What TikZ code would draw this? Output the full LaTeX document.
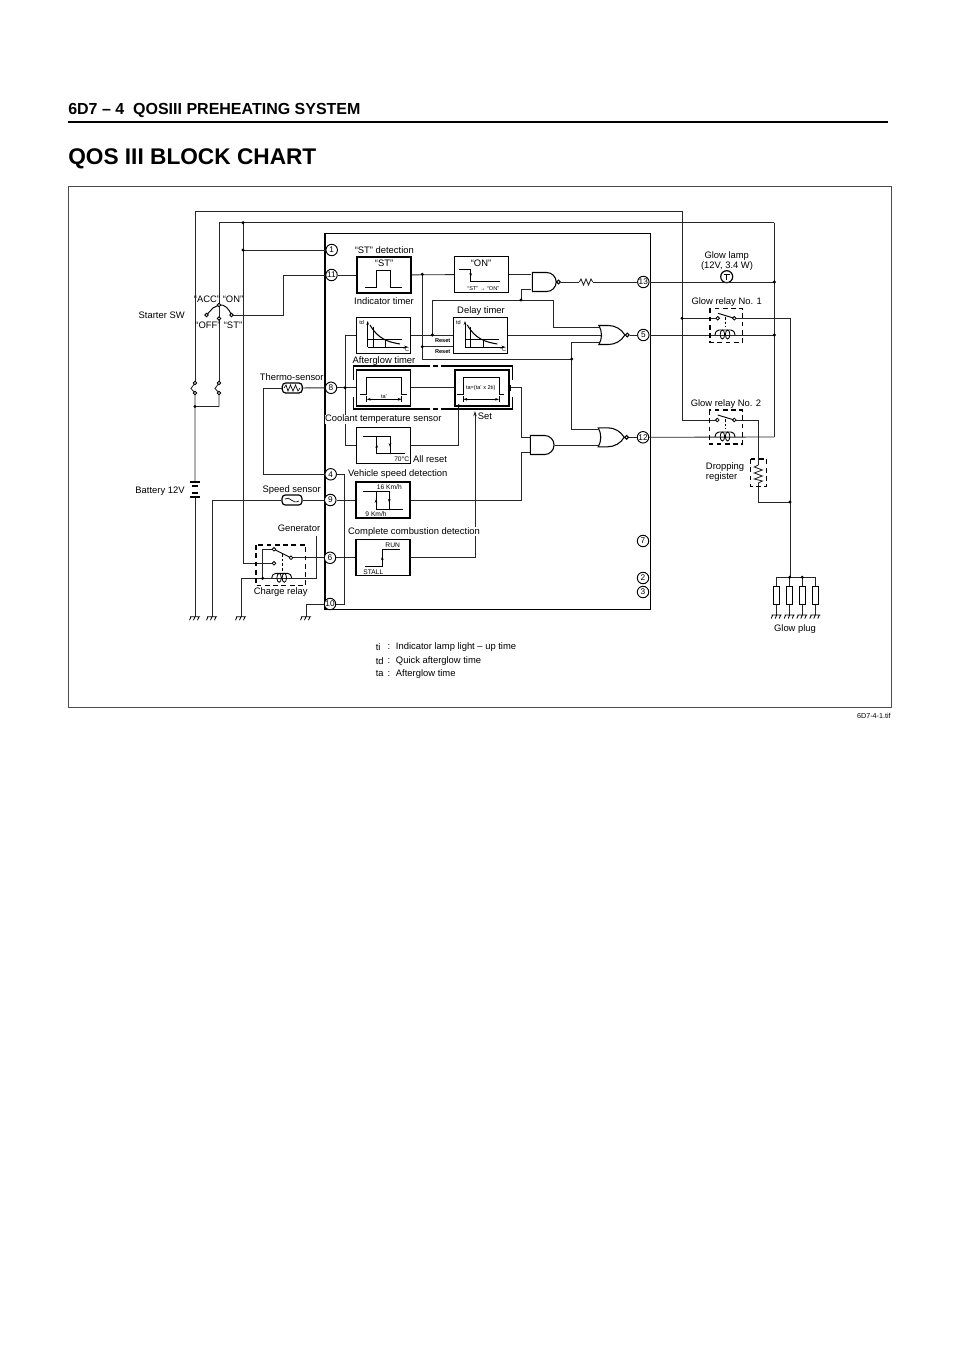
\documentclass[tikz,border=0pt]{standalone}
\usepackage{fontspec}
\setmainfont{Liberation Sans}
\usetikzlibrary{shapes.gates.logic.US,arrows.meta}
\tikzset{
  wire/.style={line width=.65pt,black!85},
  frameline/.style={line width=1.1pt},
  relaydash/.style={line width=.8pt,dash pattern=on 3.6pt off 2.6pt},
  wave/.style={line width=.6pt},
  smalltip/.style={-{Stealth[length=3pt,width=2pt]}},
  lbl/.style={font=\fontsize{7.05}{8}\selectfont,inner sep=0pt},
  tinylbl/.style={font=\fontsize{4.2}{5}\selectfont,inner sep=0pt},
  pinnode/.style={circle,draw,line width=.7pt,fill=white,minimum size=8.6pt,inner sep=0pt,font=\fontsize{6.2}{7}\selectfont},
  blockbox/.style={draw,line width=.8pt,minimum width=40.5pt,minimum height=27pt,inner sep=0pt},
  timebox/.style={blockbox,line width=1.2pt},
  gatebox/.style={draw,line width=.8pt,inner sep=0pt,logic gate input sep=4.75pt,minimum width=17pt,logic gate inverted radius=1.4pt},
  sensorbox/.style={draw,line width=.9pt,rounded corners=2.6pt,minimum width=15pt,minimum height=7.6pt,inner sep=0pt},
  plugbox/.style={draw,line width=.8pt,minimum width=4.8pt,minimum height=13pt,inner sep=0pt},
  contact/.pic={\draw[line width=.6pt,fill=white] (0,0) circle (1.8);},
  gndmark/.pic={\draw[line width=.6pt] (-5,0) -- (5,0) (-4,0) -- (-5.5,3.5) (0,0) -- (-1.5,3.5) (4,0) -- (2.5,3.5);},
  coilmark/.pic={\draw[line width=.7pt] (-10,0) .. controls (-9,-4) .. (-6,-5) -- (6,-5) .. controls (9,-4) .. (10,0);
    \draw[line width=.6pt] (-2.6,-.5) ellipse [x radius=2.2,y radius=4.5] (2.6,-.5) ellipse [x radius=2.2,y radius=4.5];}
}
\begin{document}
\begin{tikzpicture}[x=.75pt,y=-.75pt]
\useasboundingbox (0,0) rectangle (960,1358);

% page head
\node[anchor=west,inner sep=0pt,font=\fontsize{12}{14}\selectfont\bfseries] (headline) at (68,110) {6D7 -- 4\ \ QOSIII PREHEATING SYSTEM};
\draw[line width=1.3pt] (68,122) -- (888,122);
\node[anchor=west,inner sep=0pt,font=\fontsize{17}{20}\selectfont\bfseries] (chartname) at (68,158.5) {QOS III BLOCK CHART};
\draw[line width=.6pt,black!70] (68,186) rectangle (891,707);
\node[anchor=east,inner sep=0pt,font=\fontsize{5.4}{6}\selectfont] (tifname) at (891,716) {6D7-4-1.tif};

% control unit
\draw[frameline] (325,233.3) rectangle (650.7,609.5);
\foreach \pname/\px/\py in {1/331.7/250,11/331.5/275,8/331/387.8,4/330.7/474.3,9/330.3/500,6/330/557.8,10/330/604,13/643.3/282,5/643.3/335,12/643/437.3,7/643/541,2/643/578,3/643/592}
  \node[pinnode] (p\pname) at (\px,\py) {\pname};

% blocks
\node[blockbox] (STbox) at (384,275) {};
\node[blockbox] (ONbox) at (481.3,274.5) {};
\node[blockbox] (AGbox) at (383.7,335.6) {};
\node[blockbox] (DTbox) at (480.7,335.6) {};
\node[timebox] (TAbox) at (383.4,387.8) {};
\node[timebox] (TBbox) at (481.7,387.8) {};
\node[blockbox] (CTbox) at (383.4,445.3) {};
\node[blockbox] (VSbox) at (383,500) {};
\node[blockbox] (CCbox) at (383,557.8) {};

% gates
\node[nand gate US,gatebox] (and1) at (543.5,282) {};
\node[nor gate US,gatebox] (or1) at (610,335) {};
\node[and gate US,gatebox] (and2) at (541.4,445) {};
\node[nor gate US,gatebox] (or2) at (609.3,437.3) {};

% sensors
\node[sensorbox] (thermo) at (292.3,388) {};
\node[sensorbox] (speed) at (292,500) {};
\draw[line width=.5pt] (284,388) -- (286,385) -- (288,391) -- (290.5,385) -- (293,391) -- (295.5,385) -- (298,391) -- (300,388);
\draw[line width=.5pt] (285,499) .. controls (290,495) and (292,505) .. (299,501);
\node[circle,draw,line width=.9pt,minimum size=9pt,inner sep=0pt] (lamp) at (726.7,276.7) {};
\draw[line width=.7pt] (723.5,274) -- (730,274) (726.7,274) -- (726.7,280);

% junctions and free ends
\coordinate (TL) at (195,211);
\coordinate (TR) at (682,211);
\coordinate (UL) at (219,222.7);
\coordinate (UR) at (774.3,222.7);
\coordinate (Ua) at (243,222.7);
\coordinate (Ub) at (243,250);
\coordinate (Uc) at (243,563.3);
\coordinate (SWc) at (219,305);
\coordinate (SWl) at (206.5,315);
\coordinate (SWr) at (231.5,315);
\coordinate (SWb) at (219,318.5);
\coordinate (Kl) at (195,383);
\coordinate (Kla) at (195,393);
\coordinate (Kr) at (219,383);
\coordinate (Kra) at (219,393);
\coordinate (Kj) at (195,406.5);
\coordinate (Bt) at (195,482);
\coordinate (Bb) at (195,497);
\coordinate (G1) at (195,616.7);
\coordinate (G2) at (212,616.7);
\coordinate (G3) at (241,616.7);
\coordinate (G4) at (306,616.7);
\coordinate (R1) at (283,315);
\coordinate (Th) at (263.3,388);
\coordinate (Th4) at (263.3,474.3);
\coordinate (Sp) at (212,500);
\coordinate (Cb) at (241,578.3);
\coordinate (Cj) at (262.7,578.3);
\coordinate (Cu) at (262.7,549.3);
\coordinate (CSa) at (274,549.3);
\coordinate (CSb) at (274,563.3);
\coordinate (CSc) at (291,557.8);
\coordinate (Gen) at (316,536);
\coordinate (Genb) at (316,578.3);
\coordinate (Cc) at (281.7,578.3);
\coordinate (P10) at (306,604);
\coordinate (A8) at (345,387.8);
\coordinate (A8t) at (345,335);
\coordinate (A8b) at (345,445);
\coordinate (B4) at (344,474.3);
\coordinate (B10) at (344,604);
\coordinate (Sa) at (422.3,274.3);
\coordinate (Sb) at (422.3,346.7);
\coordinate (Sc) at (422.3,359);
\coordinate (Sd) at (571.7,359);
\coordinate (Se) at (571.7,342.7);
\coordinate (Sf) at (571.7,429.5);
\coordinate (Da) at (432.3,335);
\coordinate (Db) at (432.3,300);
\coordinate (Dc) at (521,300);
\coordinate (Dd) at (553.3,300);
\coordinate (De) at (553.3,327);
\coordinate (Ca) at (458.8,445);
\coordinate (Cd) at (458.8,405.8);
\coordinate (Se1) at (475,557.8);
\coordinate (Se2) at (475,411);
\coordinate (An) at (521.7,387.8);
\coordinate (An9) at (521.7,500);
\coordinate (Rs1) at (579.3,282);
\coordinate (Rs2) at (592.7,282);
\coordinate (Gl) at (774.3,282);
\coordinate (C1) at (725,335);
\coordinate (C1r) at (774.3,335);
\coordinate (C2) at (725,437);
\coordinate (C2r) at (774.3,437);
\coordinate (R1a) at (717.7,318.3);
\coordinate (R1b) at (734.3,318.3);
\coordinate (R1j) at (682,318.3);
\coordinate (R1o) at (790,318.3);
\coordinate (R2a) at (717.3,420);
\coordinate (R2b) at (734.3,420);
\coordinate (R2j) at (682,420);
\coordinate (R2o) at (758.3,420);
\coordinate (Dr1) at (758.3,465);
\coordinate (Dr2) at (758.3,483);
\coordinate (Dr3) at (758.3,502);
\coordinate (Dr4) at (790,502);
\coordinate (Bus) at (790,577.3);
\coordinate (A1a) at (531,274.4);
\coordinate (A1b) at (531,289.3);
\coordinate (A1v) at (521,289.3);
\coordinate (A2a) at (530.3,437);
\coordinate (A2b) at (530.3,452.7);
\coordinate (O1a) at (599,327);
\coordinate (O1b) at (601,335);
\coordinate (O1c) at (599,342.7);
\coordinate (O2a) at (598.5,429.5);
\coordinate (O2b) at (598.5,445);

% left side wiring
\draw[wire] (TR) -- (TL) -- (Kl);
\draw[wire] (Kl) -- (191,388.5) -- (Kla) -- (Bt);
\draw[wire] (Bb) -- (G1);
\draw[wire] (UR) -- (UL) -- (Kr);
\draw[wire] (Kr) -- (215,388.5) -- (Kra) |- (Kj);
\draw[line width=.7pt] (SWl) -- (213,308) -- (SWc) .. controls (225,304) and (229,309) .. (SWr);
\draw[wire] (Ua) -- (Uc) -- (CSb);
\draw[wire] (Ub) -- (p1);
\draw[wire] (SWr) -- (R1) |- (p11);
\draw[wire] (p8) -- (thermo);
\draw[wire] (thermo) -- (Th) -- (Th4) -- (p4);
\draw[wire] (p9) -- (speed);
\draw[wire] (speed) -- (Sp) -- (G2);
\draw[wire] (G3) -- (Cb) -- (Cc);
\draw[wire] (Cj) -- (Cu) -- (CSa);
\draw[wire] (Gen) -- (Genb) -- (Cc);
\draw[line width=.7pt] (CSa) -- (CSc);
\draw[wire] (CSc) -- (p6);
\draw[wire] (p10) -- (P10) -- (G4);
\draw[relaydash] (256,545) rectangle (305.7,585.7);
\draw[line width=.5pt,dash pattern=on 2pt off 1.5pt] (282.3,554) -- (282.3,571);
\pic[fill=white] at (281.7,578.3) {coilmark};

% battery
\draw[line width=.8pt] (190,482) -- (200,482) (192,486) -- (198,486) (192,493) -- (198,493) (190,497) -- (200,497);

% inside the unit
\draw[wire] (p11) -- (STbox);
\draw[wire] (STbox) -- (ONbox);
\draw[wire] (ONbox.east |- A1a) -- (A1a);
\draw[wire] (A1b) -- (A1v) -- (Dc);
\draw[wire] (and1.output) -- (Rs1);
\draw[wire] (Rs1) -- (581,279) -- (583.5,285) -- (586,279) -- (588.5,285) -- (591,279) -- (Rs2);
\draw[wire] (Rs2) -- (p13);
\draw[wire] (p13) -- (Gl);
\draw[wire] (Da) -- (Db) -- (Dd) -- (De) -- (O1a);
\draw[wire] (Sa) -- (Sc) -- (Sd);
\draw[wire] (Sb) -- (Sb -| DTbox.west);
\draw[wire] (AGbox.east |- Da) -- (DTbox.west |- Da);
\draw[wire] (DTbox.east |- O1b) -- (O1b);
\draw[wire] (O1c) -- (Se) -- (Sf) -- (O2a);
\draw[wire] (and2.output) -- (O2b);
\draw[wire] (or1.output) -- (p5);
\draw[wire] (or2.output) -- (p12);
\draw[wire] (p8) -- (TAbox);
\draw[wire] (TAbox) -- (TBbox);
\draw[wire] (A8t) -- (A8b);
\draw[wire] (A8t) -- (A8t -| AGbox.west);
\draw[wire] (A8b) -- (A8b -| CTbox.west);
\draw[wire] (CTbox.east |- Ca) -- (Ca) -- (Cd);
\draw[wire] (p4) -- (B4) -- (B10) -- (p10);
\draw[wire] (p9) -- (VSbox);
\draw[wire] (p6) -- (CCbox);
\draw[wire] (VSbox) -- (An9);
\draw[wire] (TBbox.east) -- (An) -- (An |- A2a) -- (A2a);
\draw[wire] (An9) -- (An9 |- A2b) -- (A2b);
\draw[wire,-{Stealth[length=4pt,width=2.6pt]}] (CCbox) -- (Se1) -- (Se2);
\draw[line width=.7pt] (510.7,385) -- (510.7,391);

% split frame round the two timers
\draw[line width=1.1pt] (353.3,380) -- (353.3,366) -- (430,366) (433,366) -- (438,366) (441,366) -- (512.3,366) -- (512.3,380);
\draw[line width=1.1pt] (353.3,397) -- (353.3,409) -- (430,409) (433,409) -- (438,409) (441,409) -- (512.3,409) -- (512.3,397);

% curves in the two td blocks
\foreach \dx in {0,97.3}{
  \draw[line width=.6pt,smalltip] (\dx+367.7,347) -- (\dx+367.7,321);
  \draw[line width=.7pt,smalltip] (\dx+367.7,347) -- (\dx+408,347);
  \draw[line width=.5pt] (\dx+367.7,339) -- (\dx+402,339) (\dx+373.3,327) -- (\dx+373.3,347) (\dx+385.7,339) -- (\dx+385.7,347);
  \draw[line width=.8pt] (\dx+370,325) .. controls (\dx+378,339) and (\dx+388,342) .. (\dx+400,344);
}
\node[tinylbl] (tdA) at (361.7,322.7) {td};
\node[tinylbl] (tdB) at (458.5,322.7) {td};
\node[tinylbl] (degA) at (406,350) {°C};
\node[tinylbl] (degB) at (503,350) {°C};

% waveforms
\draw[wave] (365,287.7) -- (376.7,287.7) -- (376.7,270) -- (390.7,270) -- (390.7,287.7) -- (401.7,287.7);
\draw[wave] (459.3,269.3) -- (470.7,269.3) -- (470.7,281.7) -- (500,281.7);
\draw[wave,smalltip] (470.7,269.3) -- (470.7,277);
\draw[wave] (360,394.3) -- (366.7,394.3) -- (366.7,377.7) -- (401.7,377.7) -- (401.7,394.3) -- (407.3,394.3);
\draw[wave,{Stealth[length=3pt,width=2pt]}-{Stealth[length=3pt,width=2pt]}] (366.7,399.3) -- (401.7,399.3);
\draw[wave] (366.7,396) -- (366.7,402) (401.7,396) -- (401.7,402);
\draw[wave] (456.7,394.3) -- (463.3,394.3) -- (463.3,377.7) -- (499,377.7) -- (499,394.3) -- (504.3,394.3);
\draw[wave,{Stealth[length=3pt,width=2pt]}-{Stealth[length=3pt,width=2pt]}] (463.3,399.3) -- (499,399.3);
\draw[wave] (463.3,396) -- (463.3,402) (499,396) -- (499,402);
\draw[wave] (363.3,436.7) -- (390,436.7) -- (390,453.3) -- (405,453.3);
\draw[wave] (376.7,436.7) -- (376.7,453.3) -- (390,453.3);
\draw[wave,smalltip] (376.7,453.3) -- (376.7,444);
\draw[wave,smalltip] (390,436.7) -- (390,447);
\draw[wave] (363.3,491) -- (389.3,491) -- (389.3,509) -- (403.3,509);
\draw[wave] (376,491) -- (376,509) -- (389.3,509);
\draw[wave,smalltip] (376,509) -- (376,499);
\draw[wave,smalltip] (389.3,491) -- (389.3,503);
\draw[wave] (365,566.7) -- (382.3,566.7) -- (382.3,549) -- (400,549);
\draw[wave,smalltip] (382.3,566.7) -- (382.3,556);

% right side wiring
\draw[wire] (TR) -- (R2j) -- (R2a);
\draw[wire] (R1j) -- (R1a);
\draw[line width=.7pt] (718,313.3) -- (R1b);
\draw[line width=.7pt] (717.7,415) -- (R2b);
\draw[wire] (R1b) -- (R1o) -- (Bus);
\draw[wire] (R2b) -- (R2o) -- (Dr1);
\draw[wire] (Dr1) -- (754.3,467) -- (762.3,470) -- (754.3,473) -- (762.3,476) -- (754.3,479) -- (762.3,481) -- (Dr2);
\draw[wire] (Dr2) -- (Dr3) -- (Dr4);
\draw[wire] (UR) -- (C2r);
\draw[wire] (p5) -- (C1r);
\draw[wire] (p12) -- (C2r);
\draw[relaydash] (710,308.3) rectangle (742.7,342.3);
\draw[relaydash] (709.3,410) rectangle (742.3,444);
\draw[relaydash] (750.7,459) rectangle (766.7,486.7);
\draw[line width=.5pt,dash pattern=on 2pt off 1.5pt] (725.7,317) -- (725.7,327);
\draw[line width=.5pt,dash pattern=on 2pt off 1.5pt] (725.7,419) -- (725.7,429);
\pic[fill=white] at (725,335) {coilmark};
\pic[fill=white] at (725,437) {coilmark};

% glow plugs
\draw[wire] (776.7,577.3) -- (815.3,577.3);
\foreach \n/\gx in {1/776.7,2/789.7,3/802.3,4/815.3}{
  \node[plugbox] (plug\n) at (\gx,595.5) {};
  \coordinate (pt\n) at (\gx,577.3);
  \coordinate (pb\n) at (\gx,615);
  \draw[wire] (pt\n) -- (plug\n);
  \draw[wire] (plug\n) -- (pb\n);
  \pic at (pb\n) {gndmark};
}
\pic at (G1) {gndmark};
\pic at (G2) {gndmark};
\pic at (G3) {gndmark};
\pic at (G4) {gndmark};

% dots and contacts
\foreach \j in {Ua,Ub,Kj,Cj,A8,Sa,Sb,Sd,Da,Dc,Cd,R1j,Gl,C1r,Dr4,pt2,pt3}
  \fill (\j) circle (1.7);
\foreach \c in {SWc,SWl,SWr,SWb,Kl,Kla,Kr,Kra,CSa,CSb,CSc,R1a,R1b,R2a,R2b}
  \pic at (\c) {contact};

% labels
\node[lbl] (lblStarter) at (161.7,315) {Starter SW};
\node[lbl] (lblACC) at (207,299) {“ACC”};
\node[lbl] (lblON) at (233,299) {“ON”};
\node[lbl] (lblOFF) at (208,325) {“OFF”};
\node[lbl] (lblST) at (233,325) {“ST”};
\node[lbl] (lblThermo) at (291.7,377) {Thermo-sensor};
\node[lbl] (lblBattery) at (160,490.7) {Battery 12V};
\node[lbl] (lblSpeed) at (291.7,490) {Speed sensor};
\node[lbl] (lblGen) at (299,528.3) {Generator};
\node[lbl] (lblCharge) at (280.7,592.3) {Charge relay};
\node[lbl] (lblSTdet) at (384.3,250) {“ST” detection};
\node[lbl] (lblSTin) at (384,263) {“ST”};
\node[lbl] (lblONin) at (481,263) {“ON”};
\node[tinylbl] (lblSTON) at (483.3,288.3) {“ST” → “ON”};
\node[lbl] (lblIndic) at (384,301) {Indicator timer};
\node[lbl] (lblDelay) at (481,310.7) {Delay timer};
\node[lbl] (lblAfter) at (384,360.7) {Afterglow timer};
\node[tinylbl,font=\fontsize{4.2}{5}\selectfont\bfseries] (lblReset1) at (442.7,340.7) {Reset};
\node[tinylbl,font=\fontsize{4.2}{5}\selectfont\bfseries] (lblReset2) at (442.7,351.7) {Reset};
\node[tinylbl] (lblTa) at (384,397) {ta'};
\node[tinylbl] (lblTaa) at (480.7,387.7) {ta=(ta' x 2ti)};
\node[lbl,fill=white] (lblCool) at (383.3,419.3) {Coolant temperature sensor};
\node[lbl] (lblSet) at (485,416) {Set};
\node[tinylbl,font=\fontsize{5}{6}\selectfont] (lbl70) at (401.7,459.3) {70°C};
\node[lbl] (lblReset) at (430,459) {All reset};
\node[lbl] (lblVehicle) at (397.7,474.3) {Vehicle speed detection};
\node[tinylbl,font=\fontsize{5}{6}\selectfont] (lbl16) at (389.3,487.3) {16 Km/h};
\node[tinylbl,font=\fontsize{5}{6}\selectfont] (lbl9) at (376,514.3) {9 Km/h};
\node[lbl,fill=white] (lblComb) at (414,531.7) {Complete combustion detection};
\node[tinylbl,font=\fontsize{5}{6}\selectfont] (lblRun) at (392.7,545) {RUN};
\node[tinylbl,font=\fontsize{5}{6}\selectfont] (lblStall) at (373.3,572.7) {STALL};
\node[lbl] (lblLamp1) at (726.7,255.7) {Glow lamp};
\node[lbl] (lblLamp2) at (727,265.7) {(12V, 3.4 W)};
\node[lbl] (lblRelay1) at (726.7,302.3) {Glow relay No. 1};
\node[lbl] (lblRelay2) at (726,404.3) {Glow relay No. 2};
\node[lbl,anchor=west] (lblDrop1) at (705.7,467.3) {Dropping};
\node[lbl,anchor=west] (lblDrop2) at (705.7,476.7) {register};
\node[lbl] (lblPlug) at (795,629) {Glow plug};

% legend
\foreach \r/\ry/\rk/\rt in {1/646.7/ti/Indicator lamp light -- up time,2/660.7/td/Quick afterglow time,3/674/ta/Afterglow time}{
  \node[lbl,anchor=west] (key\r) at (375.5,\ry) {\rk};
  \node[lbl] (col\r) at (389,\ry) {:};
  \node[lbl,anchor=west] (txt\r) at (395.7,\ry) {\rt};
}
\end{tikzpicture}
\end{document}
